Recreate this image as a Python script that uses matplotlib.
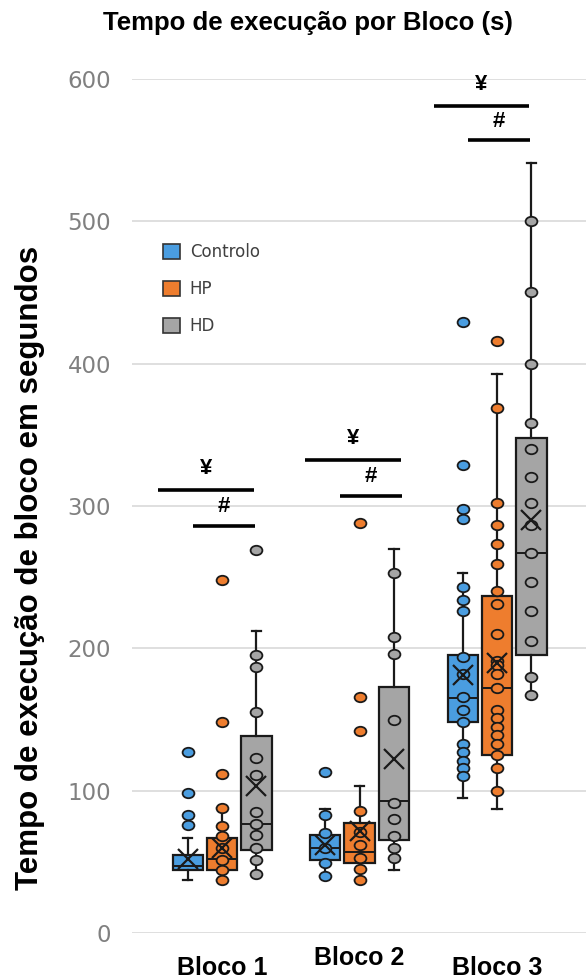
"""Box plots of block execution time per group (Controlo, HP, HD)."""

from matplotlib import pyplot
from matplotlib.patches import Patch
from matplotlib.path import Path
from matplotlib.transforms import Affine2D
import numpy

# Data -----------------------------------------------------------------------
blocks = ['Bloco 1', 'Bloco 2', 'Bloco 3']
groups = ['Controlo', 'HP', 'HD']
colors = ['#4a9de0', '#ee7d2e', '#a5a5a5']

# box stats per block: [whisker low, q1, median, q3, whisker high, mean]
controlo_box = [[37, 44, 47, 55, 67, 52],
                [40, 51, 59.5, 69, 87, 62],
                [95, 148, 165, 195, 253, 181]]
hp_box = [[37, 44, 52, 67, 88, 60],
          [37, 49, 57, 77.5, 103, 72],
          [87, 125, 172, 237, 393, 190]]
hd_box = [[41, 58, 76.5, 138.5, 212, 103],
          [44, 65, 92.5, 173, 270, 122],
          [166, 195, 267, 348, 541, 290]]

# individual points shown per block
controlo_pts = [[127, 98.5, 83, 76],
                [113, 83, 70.5, 59.6, 49.4, 40],
                [429, 329, 298, 291, 243, 234, 226, 194, 182, 166, 157,
                 148, 133, 127, 121, 116, 110]]
hp_pts = [[248, 148, 112, 88, 75, 68, 60, 51, 44, 37],
          [288, 166, 142, 86, 71, 62, 53, 45, 37],
          [416, 369, 302, 287, 273, 259, 240, 231, 210, 191, 188, 182,
           172, 157, 151, 145, 139, 133, 125, 116, 100]]
hd_pts = [[269, 195.5, 187, 155, 123, 111, 85, 76.6, 69, 60, 51, 41.5],
          [253, 208, 196, 150, 91, 80, 68, 59.5, 52.5],
          [500, 450, 400, 358, 340, 320.5, 302, 287, 267, 246.5, 226.5,
           205, 180, 167]]

# significance bars (y value of each line)
yen_y = [311, 332, 581]
hash_y = [286, 307, 557]

yticks = [0, 100, 200, 300, 400, 500, 600]

# Figure -----------------------------------------------------------------------
W, H = 586, 980
fig = pyplot.figure(figsize=(W / 100, H / 100), dpi=100)
ax = fig.add_axes([132 / W, (H - 933) / H, (W - 132) / W, (933 - 79) / H])

offsets = [-0.25, 0.0, 0.25]
width = 0.22
boxes = [controlo_box, hp_box, hd_box]
points = [controlo_pts, hp_pts, hd_pts]

# slightly flattened circle, like the original points
ellipse = Path.unit_circle().transformed(Affine2D().scale(1.0, 0.8))

for g, (box, pts, color) in enumerate(zip(boxes, points, colors)):
    for b in range(3):
        x = b + 1 + offsets[g]
        wlo, q1, med, q3, whi, mean = box[b]
        stats = [dict(whislo=wlo, q1=q1, med=med, q3=q3, whishi=whi,
                      fliers=[])]
        ax.bxp(stats, positions=[x], widths=width, patch_artist=True,
               showfliers=False, manage_ticks=False,
               boxprops=dict(facecolor=color, edgecolor='#1a1a1a',
                             linewidth=1.6),
               medianprops=dict(color='#1a1a1a', linewidth=1.4),
               whiskerprops=dict(color='#1a1a1a', linewidth=1.6),
               capprops=dict(color='#1a1a1a', linewidth=1.6),
               capwidths=0.07)
        ax.plot(numpy.full(len(pts[b]), x), pts[b], marker=ellipse,
                ls='none', ms=8.5, mfc=color, mec='#1a1a1a', mew=1.3,
                zorder=4)
        ax.plot([x], [mean], 'x', ms=15, mec='#1a1a1a', mew=1.6, zorder=5)

# significance annotations
yen_span = [(-0.465, 0.233), (-0.396, 0.302), (-0.458, 0.233)]
hash_span = [(-0.211, 0.24), (-0.142, 0.309), (-0.211, 0.24)]
for b in range(3):
    c = b + 1
    x0, x1 = yen_span[b]
    ax.plot([c + x0, c + x1], [yen_y[b]] * 2, color='black', lw=2.6,
            solid_capstyle='butt', clip_on=False)
    ax.text(c + (x0 + x1) / 2, yen_y[b] + 8, '¥', ha='center', va='bottom',
            fontsize=16, fontweight='bold', family='Liberation Sans')
    x0, x1 = hash_span[b]
    ax.plot([c + x0, c + x1], [hash_y[b]] * 2, color='black', lw=2.6,
            solid_capstyle='butt', clip_on=False)
    ax.text(c + (x0 + x1) / 2, hash_y[b] + 6, '#', ha='center', va='bottom',
            fontsize=16, fontweight='bold', family='Liberation Sans')

ax.set_xlim(0.345, 3.647)
ax.set_ylim(0, 600)
ax.set_yticks(yticks)
ax.set_yticklabels([str(t) for t in yticks], fontsize=16.5, color='#808080')
ax.tick_params(axis='y', length=0, pad=15)
ax.set_xticks([])
ax.yaxis.grid(True, color='#d9d9d9', linewidth=1.2)
ax.set_axisbelow(True)
for spine in ax.spines.values():
    spine.set_visible(False)

# block labels below the axis
label_y = [968, 958, 968]
for b, name in enumerate(blocks):
    fig.text((132 + (b + 1 - 0.345) * (W - 132) / 3.302) / W,
             1 - label_y[b] / H, name, ha='center', va='center',
             fontsize=18, fontweight='bold', family='Liberation Sans')

fig.text(308 / W, 1 - 23 / H, 'Tempo de execução por Bloco (s)', ha='center',
         va='center', fontsize=18.5, fontweight='bold',
         family='Liberation Sans')
fig.text(30 / W, 1 - 568 / H, 'Tempo de execução de bloco em segundos',
         rotation=90, ha='center', va='center', fontsize=22.5,
         fontweight='bold', family='Liberation Sans')

handles = [Patch(facecolor=c, edgecolor='#333333', linewidth=1.2)
           for c in colors]
ax.legend(handles, groups, loc='upper left', frameon=False,
          bbox_to_anchor=(148 / W, 1 - 228 / H), bbox_transform=fig.transFigure,
          fontsize=12, labelcolor='#404040', handlelength=1.0,
          handleheight=1.0, labelspacing=1.15, handletextpad=0.6)

fig.savefig('out.png', dpi=100)
